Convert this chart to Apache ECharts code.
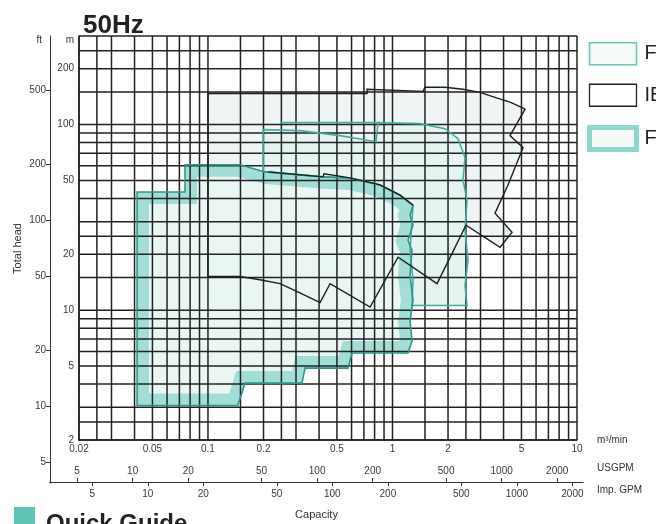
<!DOCTYPE html>
<html><head><meta charset="utf-8">
<script src="https://cdn.jsdelivr.net/npm/echarts@6/dist/echarts.min.js"></script>
<style>html,body{margin:0;padding:0;background:#fff;overflow:hidden}#c{width:656px;height:524px;}</style>
</head><body><div id="c"></div>
<script>
// ---- axis ranges / ticks ----
const Q_MIN = 0.02, Q_MAX = 10;          // m3/min
const H_MIN = 2, H_MAX = 300;            // m
const FT_MIN = 3.847, FT_MAX = 984.25;   // ft (same scale as m axis, longer line)
const US_MIN = 3.565, US_MAX = 2760;     // USGPM
const IMP_MIN = 2.950, IMP_MAX = 2283;   // Imp. GPM
const capacityTicks = [0.02, 0.05, 0.1, 0.2, 0.5, 1, 2, 5, 10];
const usgpmTicks = [5, 10, 20, 50, 100, 200, 500, 1000, 2000];
const impGpmTicks = [5, 10, 20, 50, 100, 200, 500, 1000, 2000];
const headTicksM = [2, 5, 10, 20, 50, 100, 200];
const headTicksFt = [5, 10, 20, 50, 100, 200, 500];
const gridX = [0.02,0.025,0.03,0.04,0.05,0.06,0.07,0.08,0.09,0.1,0.15,0.2,0.25,0.3,0.4,0.5,0.6,0.7,0.8,0.9,1,1.5,2,2.5,3,4,5,6,7,8,9,10];
const gridY = [2,2.5,3,4,5,6,7,8,9,10,15,20,25,30,40,50,60,70,80,90,100,150,200,250,300];

// ---- selection ranges [capacity m3/min, head m] ----
const ieRange = [[0.100,147],[0.728,147],[0.728,155],[1.464,151],[1.501,159],[1.926,159],[2.411,155],[2.98,149],[3.595,140],[4.335,132],[4.91,125],[5.229,121],
  [4.335,87.2],[5.100,75.0],[4.228,47.3],[3.595,33.3],[4.446,26.3],[3.826,21.8],[2.503,28.7],[1.744,13.9],[1.072,19.3],[0.756,10.4],[0.459,13.9],[0.405,11.0],[0.315,12.4],[0.246,13.9],[0.191,14.6],[0.149,15.2],[0.100,15.2]];
const ieUpperOfBand = [[0.212,55.6],[0.420,52.3],[0.426,54.3],[0.589,51.6],[0.856,47.3],[1.099,41.7],[1.292,36.8]];
const fRange = [[0.199,55.6],[0.199,93.9],[0.315,92.8],[0.520,87.2],[0.814,80.9],[0.835,102.5],[1.410,101.2],[1.926,95.1],[2.266,84.0],[2.472,66.2],[2.411,50.3],[2.535,39.2],[2.472,27.0],[2.567,18.5],[2.472,13.6],[2.535,10.6],
  [1.276,10.6],[1.292,14.5],[1.245,21.0],[1.276,30.6],[1.292,36.8],[1.099,41.7],[0.856,47.3],[0.589,51.6],[0.420,52.3],[0.212,55.6]];
const fUpperLine = [[0.246,102.5],[0.835,102.5]];
const fvRange = [[0.0413,3.07],[0.0413,43.3],[0.0751,43.3],[0.0751,60.7],[0.149,60.7],[0.204,55.6],[0.420,52.3],[0.589,51.6],[0.856,47.3],[1.099,41.7],[1.292,36.8],[1.245,32.5],[1.292,28.7],[1.214,23.8],[1.276,21.0],[1.245,15.4],[1.292,11.3],[1.245,8.77],[1.276,6.84],[1.214,5.88],
  [0.604,5.88],[0.574,4.88],[0.336,4.88],[0.323,4.05],[0.159,4.05],[0.145,3.07]];

const legendNames = ['F1', 'IE', 'F2'];
const legendTexts = ['F', 'IE', 'F'];

// ---- colours ----
const GRID_C = '#222', TEAL_DARK = '#2f9488', TEAL_LINE = '#45ab9e', BAND = '#a3ded6';
const PALE_IE = '#eff5f4', PALE_F = '#e5f4f1', PALE_FV = '#eaf6f4';

const fmt = v => String(parseFloat(Number(v).toPrecision(6)));

function polySeries(name, pts, z, build) {
  return {
    type: 'custom', name, xAxisIndex: 0, yAxisIndex: 0, z, silent: true,
    data: pts,
    renderItem: (params, api) => {
      if (params.dataIndex !== 0) return null;
      const points = pts.map(p => api.coord(p));
      return build(points);
    }
  };
}

const series = [
  polySeries('IE', ieRange, 1, pts => ({type: 'polygon', shape: {points: pts}, style: {fill: PALE_IE}})),
  polySeries('F1', fRange, 2, pts => ({type: 'polygon', shape: {points: pts}, style: {fill: PALE_F}})),
  polySeries('F2', fvRange, 2, pts => ({type: 'group', children: [
    {type: 'polygon', shape: {points: pts}, style: {fill: PALE_FV}},
    {type: 'polygon', shape: {points: pts}, style: {fill: null, stroke: BAND, lineWidth: 24, lineJoin: 'miter'},
     clipPath: {type: 'polygon', shape: {points: pts}}}
  ]})),
  // grid lines
  {
    type: 'custom', xAxisIndex: 0, yAxisIndex: 0, z: 3, silent: true,
    data: gridX.map(v => [v, H_MIN]),
    renderItem: (params, api) => {
      const v = api.value(0);
      const a = api.coord([v, H_MIN]), b = api.coord([v, H_MAX]);
      return {type: 'line', shape: {x1: a[0], y1: a[1], x2: b[0], y2: b[1]}, style: {stroke: GRID_C, lineWidth: 1.5}};
    }
  },
  {
    type: 'custom', xAxisIndex: 0, yAxisIndex: 0, z: 3, silent: true,
    data: gridY.map(v => [Q_MIN, v]),
    renderItem: (params, api) => {
      const v = api.value(1);
      const a = api.coord([Q_MIN, v]), b = api.coord([Q_MAX, v]);
      return {type: 'line', shape: {x1: a[0], y1: a[1], x2: b[0], y2: b[1]}, style: {stroke: GRID_C, lineWidth: 1.5}};
    }
  },
  // outlines
  polySeries('F1', fRange, 5, pts => ({type: 'polygon', shape: {points: pts}, style: {fill: null, stroke: TEAL_LINE, lineWidth: 1.6}})),
  polySeries('F1', fUpperLine, 5, pts => ({type: 'polyline', shape: {points: pts}, style: {fill: null, stroke: TEAL_LINE, lineWidth: 1.6}})),
  polySeries('F2', fvRange, 6, pts => ({type: 'polygon', shape: {points: pts}, style: {fill: null, stroke: TEAL_DARK, lineWidth: 1.6}})),
  polySeries('IE', ieRange, 7, pts => ({type: 'polygon', shape: {points: pts}, style: {fill: null, stroke: '#1e1e1e', lineWidth: 1.4}})),
  polySeries('IE', ieUpperOfBand, 7, pts => ({type: 'polyline', shape: {points: pts}, style: {fill: null, stroke: '#1e1e1e', lineWidth: 1.4}}))
];

const lab = {fontSize: 10, color: '#3a3a3a'};
const option = {
  animation: false,
  textStyle: {fontFamily: 'Liberation Sans, Arial, sans-serif'},
  title: {text: '50Hz', left: 78, top: 8, textStyle: {fontSize: 26, fontWeight: 'bold', color: '#222'}},
  legend: {
    orient: 'vertical', left: 582, top: 37, itemWidth: 47, itemHeight: 22, itemGap: 18, selectedMode: false,
    data: [
      {name: 'F1', icon: 'rect', itemStyle: {color: '#f6fbfa', borderColor: '#6cc6ba', borderWidth: 1.6}},
      {name: 'IE', icon: 'rect', itemStyle: {color: '#ffffff', borderColor: '#222', borderWidth: 1.3}},
      {name: 'F2', icon: 'rect', itemStyle: {color: '#f3faf8', borderColor: '#8fd6cc', borderWidth: 5}}
    ],
    formatter: n => legendTexts[legendNames.indexOf(n)],
    textStyle: {fontSize: 20, color: '#222', padding: [0, 0, 0, 3]}
  },
  grid: [
    {left: 79, right: 79, top: 36, bottom: 84},
    {left: 50, width: 1, top: 36, bottom: 41},
    {left: 50, right: 73, top: 482, height: 0}
  ],
  xAxis: [
    {gridIndex: 0, type: 'log', logBase: 10, min: Q_MIN, max: Q_MAX,
     name: 'm³/min', nameLocation: 'end', nameGap: 20, nameTextStyle: {fontSize: 10, color: '#333', padding: [7, 0, 0, 0]},
     axisLine: {show: true, lineStyle: {color: GRID_C, width: 1.5}}, axisTick: {show: false}, splitLine: {show: false},
     axisLabel: Object.assign({customValues: capacityTicks, margin: 4, formatter: fmt}, lab)},
    {gridIndex: 1, type: 'value', show: false},
    {gridIndex: 2, type: 'log', logBase: 10, min: US_MIN, max: US_MAX, position: 'top',
     name: 'USGPM', nameLocation: 'end', nameGap: 14, nameTextStyle: {fontSize: 10, color: '#333', verticalAlign: 'bottom', padding: [0, 0, 9, 0]},
     axisLine: {show: true, lineStyle: {color: '#333', width: 1}},
     axisTick: {show: true, customValues: usgpmTicks, length: 4, inside: false, lineStyle: {color: '#333'}},
     splitLine: {show: false},
     axisLabel: Object.assign({customValues: usgpmTicks, margin: 6, formatter: fmt}, lab)},
    {gridIndex: 2, type: 'log', logBase: 10, min: IMP_MIN, max: IMP_MAX, position: 'bottom',
     name: 'Imp. GPM', nameLocation: 'end', nameGap: 14, nameTextStyle: {fontSize: 10, color: '#333', verticalAlign: 'top', padding: [3, 0, 0, 0]},
     axisLine: {show: true, lineStyle: {color: '#333', width: 1}},
     axisTick: {show: true, customValues: impGpmTicks, length: 4, inside: false, lineStyle: {color: '#333'}},
     splitLine: {show: false},
     axisLabel: Object.assign({customValues: impGpmTicks, margin: 7, formatter: fmt}, lab)},
    {gridIndex: 2, type: 'value', position: 'bottom', name: 'Capacity', nameLocation: 'middle', nameGap: 27,
     nameTextStyle: {fontSize: 11, color: '#333'},
     axisLine: {show: false}, axisTick: {show: false}, axisLabel: {show: false}, splitLine: {show: false}}
  ],
  yAxis: [
    {gridIndex: 0, type: 'log', logBase: 10, min: H_MIN, max: H_MAX,
     name: 'm', nameLocation: 'end', nameGap: -4, nameTextStyle: {fontSize: 10, color: '#333', align: 'right', verticalAlign: 'middle', padding: [0, 5, 0, 0]},
     axisLine: {show: true, lineStyle: {color: GRID_C, width: 1.5}}, axisTick: {show: false}, splitLine: {show: false},
     axisLabel: Object.assign({customValues: headTicksM, margin: 5, formatter: fmt}, lab)},
    {gridIndex: 1, type: 'log', logBase: 10, min: FT_MIN, max: FT_MAX,
     name: 'Total head', nameLocation: 'middle', nameGap: 27, nameTextStyle: {fontSize: 11, color: '#333', padding: [0, 0, 0, 22]},
     axisLine: {show: true, lineStyle: {color: '#333', width: 1}},
     axisTick: {show: true, customValues: headTicksFt, length: 4, inside: false, lineStyle: {color: '#333'}},
     splitLine: {show: false},
     axisLabel: Object.assign({customValues: headTicksFt, margin: 4, formatter: fmt}, lab)},
    {gridIndex: 2, type: 'value', show: false},
    {gridIndex: 1, type: 'value', position: 'left', name: 'ft', nameLocation: 'end', nameGap: -4,
     nameTextStyle: {fontSize: 10, color: '#333', align: 'right', verticalAlign: 'middle', padding: [0, 8, 0, 0]},
     axisLine: {show: false}, axisTick: {show: false}, axisLabel: {show: false}, splitLine: {show: false}}
  ],
  graphic: [
    {type: 'rect', left: 14, top: 507, shape: {width: 21, height: 20}, style: {fill: '#5ec4b6'}},
    {type: 'text', left: 46, top: 512, style: {text: 'Quick Guide', font: 'bold 24px Liberation Sans', fill: '#222'}}
  ],
  series
};
const chart = echarts.init(document.getElementById('c'), null, {renderer: 'canvas'});
chart.setOption(option);
</script></body></html>
